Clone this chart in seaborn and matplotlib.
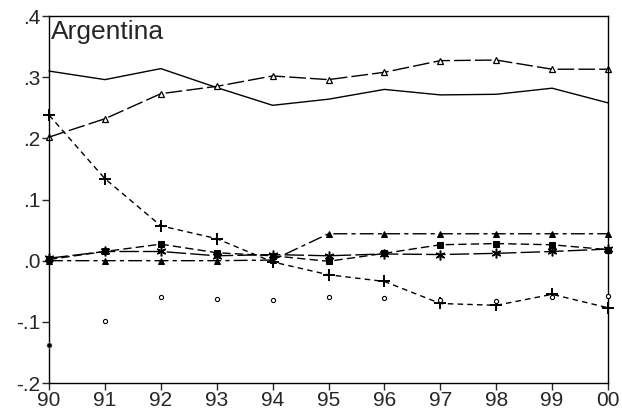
import pandas as pd
import numpy as np
import matplotlib
matplotlib.use('Agg')
import matplotlib.pyplot as plt
import seaborn as sns

years = [1990, 1991, 1992, 1993, 1994, 1995, 1996, 1997, 1998, 1999, 2000]
year_labels = ['90', '91', '92', '93', '94', '95', '96', '97', '98', '99', '00']

solid = [0.310, 0.296, 0.314, 0.283, 0.254, 0.264, 0.280, 0.271, 0.272, 0.282, 0.258]
open_tri = [0.202, 0.232, 0.273, 0.285, 0.302, 0.296, 0.308, 0.327, 0.328, 0.313, 0.313]
plus = [0.238, 0.134, 0.057, 0.036, -0.002, -0.023, -0.034, -0.070, -0.073, -0.055, -0.077]
filled_tri = [0.000, 0.000, 0.000, 0.000, 0.001, 0.044, 0.044, 0.044, 0.044, 0.044, 0.044]
squares = [0.002, 0.015, 0.027, 0.013, 0.008, -0.001, 0.012, 0.026, 0.028, 0.026, 0.018]
stars = [0.004, 0.015, 0.015, 0.008, 0.010, 0.008, 0.011, 0.010, 0.012, 0.015, 0.019]
circles = [-0.138, -0.099, -0.059, -0.063, -0.064, -0.059, -0.061, -0.064, -0.066, -0.060, -0.057]

sns.set_style('ticks')
plt.rcParams['font.family'] = ['Liberation Sans', 'DejaVu Sans']

fig = plt.figure(figsize=(6.22, 4.19), dpi=100)
ax = fig.add_axes([0.0788, 0.0859, 0.8987, 0.8759])

df = pd.DataFrame({'year': years, 'solid': solid, 'open_tri': open_tri, 'plus': plus,
                   'filled_tri': filled_tri, 'squares': squares, 'stars': stars,
                   'circles': circles})

common = dict(ax=ax, color='black', lw=1, clip_on=False)
sns.lineplot(data=df, x='year', y='solid', **common)
sns.lineplot(data=df, x='year', y='open_tri', marker='^', markersize=5,
             markerfacecolor='white', markeredgecolor='black', markeredgewidth=0.9,
             dashes=(12, 3), **common)
sns.lineplot(data=df, x='year', y='plus', marker='+', markersize=9,
             markeredgecolor='black', markeredgewidth=1.4, dashes=(4, 3), **common)
sns.lineplot(data=df, x='year', y='filled_tri', marker='^', markersize=5,
             markeredgecolor='black', dashes=(10, 3, 3, 3), **common)
sns.lineplot(data=df, x='year', y='squares', marker='s', markersize=4.5,
             markeredgecolor='black', dashes=(6, 3), **common)
sns.lineplot(data=df, x='year', y='stars', marker=(6, 2, 0), markersize=7,
             markeredgecolor='black', markeredgewidth=1.1, dashes=(14, 3), **common)
sns.scatterplot(data=df, x='year', y='circles', ax=ax, marker='o', s=9,
                facecolor='white', edgecolor='black', linewidth=0.8, zorder=5,
                clip_on=False)
sns.scatterplot(data=df.iloc[:1], x='year', y='circles', ax=ax, marker='o', s=14,
                color='black', zorder=6, clip_on=False)

ax.set_xlim(1990, 2000)
ax.set_ylim(-0.2, 0.4)
ax.set_xticks(years)
ax.set_xticklabels(year_labels)
ax.set_yticks([-0.2, -0.1, 0.0, 0.1, 0.2, 0.3, 0.4])
ax.set_yticklabels(['-.2', '-.1', '.0', '.1', '.2', '.3', '.4'])
ax.tick_params(axis='both', direction='out', length=5, width=1, labelsize=15, pad=1)
ax.set_xlabel('')
ax.set_ylabel('')
for sp in ax.spines.values():
    sp.set_visible(True)
    sp.set_linewidth(1)
    sp.set_color('black')
ax.grid(False)
ax.text(0.003, 0.99, 'Argentina', transform=ax.transAxes, fontsize=19,
        ha='left', va='top')

fig.savefig('out.png', dpi=100)
